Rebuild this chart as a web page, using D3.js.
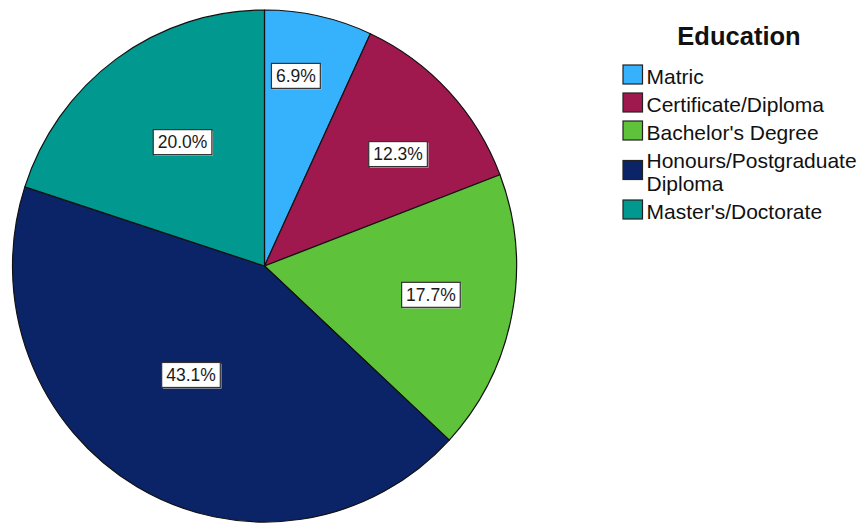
<!DOCTYPE html>
<html>
<head>
<meta charset="utf-8">
<script src="https://cdn.jsdelivr.net/npm/d3@7"></script>
<style>
  html, body { margin: 0; padding: 0; background: #fff; }
  svg { display: block; font-family: "Liberation Sans", Arial, sans-serif; }
</style>
</head>
<body>
<svg id="chart" width="860" height="525"></svg>
<script>
// Education levels and their share of respondents (%)
const categories = ["Matric", "Certificate/Diploma", "Bachelor\u2019s Degree", "Honours/Postgraduate Diploma", "Master\u2019s/Doctorate"];
const legendLines = [["Matric"], ["Certificate/Diploma"], ["Bachelor's Degree"], ["Honours/Postgraduate", "Diploma"], ["Master's/Doctorate"]];
const percents = [6.9, 12.3, 17.7, 43.1, 20.0];
const colors = ["#36b2fd", "#a0194e", "#5ec23a", "#0b2468", "#01988f"];

// label placement inside each slice: distance from centre (share of radius) and angular nudge (deg)
const labelRadius = [0.753, 0.687, 0.670, 0.516, 0.583];
const labelNudge = [-2.9, 3.5, -1.3, 4.0, 2.1];

const svg = d3.select("#chart");
const cx = 264.5, cy = 266, rx = 252, ry = 256;

const pie = d3.pie().sort(null).value(d => d)(percents);
const arc = d3.arc().innerRadius(0).outerRadius(rx);

// pie body (slightly taller than wide)
const g = svg.append("g")
  .attr("transform", `translate(${cx},${cy}) scale(1,${ry / rx})`);

g.selectAll("path.slice")
  .data(pie)
  .join("path")
  .attr("class", "slice")
  .attr("d", arc)
  .attr("fill", (d, i) => colors[i])
  .attr("stroke", "#111")
  .attr("stroke-width", 1.2)
  .attr("vector-effect", "non-scaling-stroke")
  .attr("stroke-linejoin", "round");

// percentage labels in white boxes
const fmt = d3.format(".1f");
const labels = svg.append("g");
pie.forEach((d, i) => {
  const a = (d.startAngle + d.endAngle) / 2 + labelNudge[i] * Math.PI / 180;
  const x = cx + rx * labelRadius[i] * Math.sin(a);
  const y = cy - ry * labelRadius[i] * Math.cos(a);
  const lg = labels.append("g").attr("transform", `translate(${x},${y})`);
  const t = lg.append("text")
    .attr("text-anchor", "middle")
    .attr("y", 6.3)
    .attr("font-size", 17.5)
    .attr("fill", "#1a1a1a")
    .text(fmt(d.data) + "%");
  const w = t.node().getComputedTextLength() + 9;
  const h = 25;
  lg.insert("rect", "text")
    .attr("x", -w / 2 + 1.2).attr("y", -h / 2 + 1.2)
    .attr("width", w).attr("height", h)
    .attr("fill", "#bbb");
  lg.insert("rect", "text")
    .attr("x", -w / 2).attr("y", -h / 2)
    .attr("width", w).attr("height", h)
    .attr("fill", "#fff")
    .attr("stroke", "#333")
    .attr("stroke-width", 1.2);
});

// legend
const legend = svg.append("g");
legend.append("text")
  .attr("x", 739).attr("y", 45)
  .attr("text-anchor", "middle")
  .attr("font-size", 25.5)
  .attr("font-weight", "bold")
  .attr("fill", "#111")
  .text("Education");

const step = 28, lineH = 23, fontSize = 21, capHalf = 7.5;
let center = 76;
legendLines.forEach((lines, i) => {
  if (i > 0) center += step + (legendLines[i - 1].length - 1) * lineH / 2 + (lines.length - 1) * lineH / 2;
  legend.append("rect")
    .attr("x", 623).attr("y", center - 11)
    .attr("width", 19.5).attr("height", 19)
    .attr("fill", colors[i])
    .attr("stroke", "#222")
    .attr("stroke-width", 1.2);
  const top = center - (lines.length - 1) * lineH / 2;
  const txt = legend.append("text")
    .attr("font-size", fontSize)
    .attr("fill", "#111");
  lines.forEach((ln, k) => {
    txt.append("tspan")
      .attr("x", 646.5)
      .attr("y", top + k * lineH + capHalf)
      .text(ln);
  });
});
</script>
</body>
</html>
